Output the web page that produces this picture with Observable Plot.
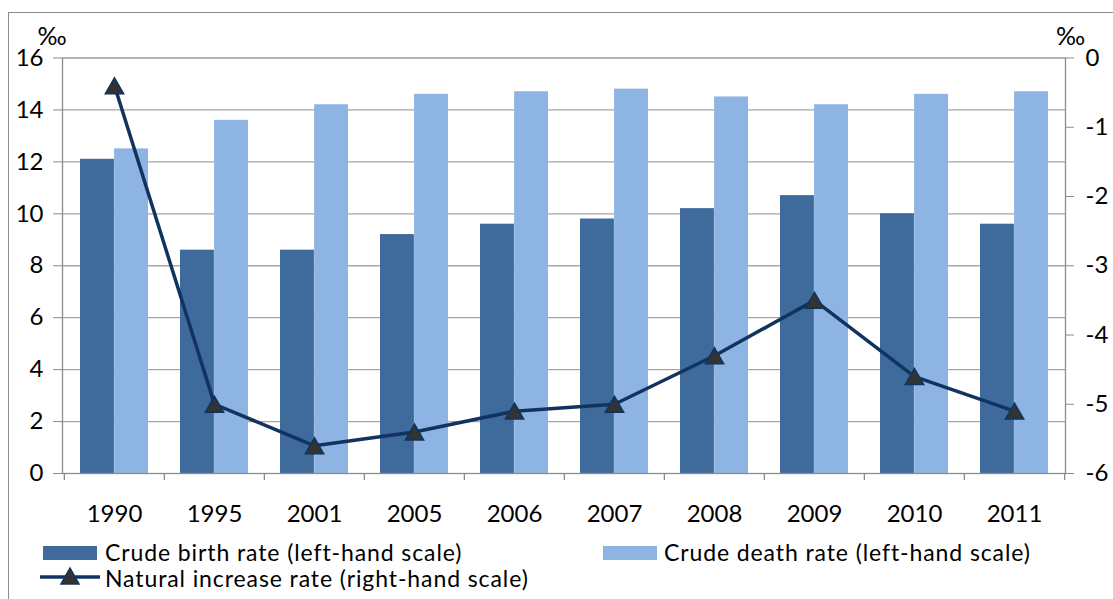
<!DOCTYPE html>
<html><head><meta charset="utf-8">
<script src="https://cdn.jsdelivr.net/npm/d3@7"></script>
<script src="https://cdn.jsdelivr.net/npm/@observablehq/plot@0.6"></script>
<style>
body{margin:0;background:#fff;font-family:Lato,sans-serif;}
#wrap{position:relative;width:1113px;height:599px;overflow:hidden;}
#border{position:absolute;left:8px;top:12px;width:1300px;height:800px;border-top:1px solid #8c8c8c;border-left:1px solid #8c8c8c;box-sizing:border-box;}
#chart{position:absolute;left:0;top:0;}
#legend{position:absolute;left:0;top:535px;width:1113px;height:64px;font-size:23px;color:#000;}
.sw{position:absolute;width:54px;height:14px;}
.lt{position:absolute;line-height:20px;white-space:nowrap;letter-spacing:0.9px;}
</style></head>
<body>
<div id="wrap">
<div id="border"></div>
<div id="chart"></div>
<div id="legend"></div>
</div>
<script>
const years = ["1990","1995","2001","2005","2006","2007","2008","2009","2010","2011"];
const birth = [12.1, 8.6, 8.6, 9.2, 9.6, 9.8, 10.2, 10.7, 10.0, 9.6];
const death = [12.5, 13.6, 14.2, 14.6, 14.7, 14.8, 14.5, 14.2, 14.6, 14.7];
const natural = [-0.4, -5.0, -5.6, -5.4, -5.1, -5.0, -4.3, -3.5, -4.6, -5.1];
const leftTicks = [0, 2, 4, 6, 8, 10, 12, 14, 16];
const rightTicks = [-6, -5, -4, -3, -2, -1, 0];
const seriesNames = ["Crude birth rate (left-hand scale)", "Crude death rate (left-hand scale)", "Natural increase rate (right-hand scale)"];
const unitLabel = "‰";

const colBirth = "#3f6a9c", colDeath = "#8eb4e3", colLine = "#10345f", colMarker = "#333333", colAxis = "#8c8c8c";

const table = years.map((year, i) => ({year, birth: birth[i], death: death[i], natural: natural[i]}));
// right-hand scale [-6, 0] mapped onto the left-hand [0, 16]
const toLeft = v => (v + 6) * 16 / 6;

const W = 1113, H = 535, mL = 62, mR = 48, mT = 57.5, mB = 62;
const step = (W - mL - mR) / years.length;
const half = step * 0.68 / 2;
const FS = 24;

const tri = {draw(context, size) {
  const s = Math.sqrt(size / (Math.sqrt(3) / 4));
  const h = s * Math.sqrt(3) / 2;
  context.moveTo(0, -h / 2);
  context.lineTo(s / 2, h / 2);
  context.lineTo(-s / 2, h / 2);
  context.closePath();
}};

const chart = Plot.plot({
  width: W, height: H,
  marginLeft: mL, marginRight: mR, marginTop: mT, marginBottom: mB,
  style: {fontFamily: "Lato, sans-serif", fontSize: FS + "px", color: "#000", background: "transparent", overflow: "visible"},
  x: {domain: years, paddingInner: 0.32, paddingOuter: 0.16, label: null},
  y: {domain: [0, 16], label: null},
  marks: [
    Plot.gridY(leftTicks.filter(t => t > 0 && t < 16), {stroke: "#a6a6a6", strokeOpacity: 1, strokeWidth: 1.3}),
    Plot.barY(table, {x: "year", y: "birth", fill: colBirth, insetRight: half}),
    Plot.barY(table, {x: "year", y: "death", fill: colDeath, insetLeft: half}),
    Plot.frame({stroke: colAxis, strokeWidth: 1.3}),
    Plot.ruleX(table, {x: "year", y1: 0, y2: -7 / 26, dx: -step / 2, stroke: colAxis, strokeWidth: 1.3}),
    Plot.ruleX([years[years.length - 1]], {x: d => d, y1: 0, y2: -7 / 26, dx: step / 2, stroke: colAxis, strokeWidth: 1.3}),
    Plot.axisY(leftTicks, {anchor: "left", tickSize: 9, tickPadding: 10, stroke: colAxis, fill: "#000", fontSize: FS, label: null}),
    Plot.axisY(rightTicks.map(toLeft), {anchor: "right", tickSize: 8, stroke: colAxis, label: null, tickFormat: () => ""}),
    Plot.text(rightTicks, {y: d => toLeft(d), text: d => String(d), frameAnchor: "right", dx: 20, textAnchor: "start", lineAnchor: "middle", fontSize: FS, fill: "#000"}),
    Plot.axisX(years, {anchor: "bottom", tickSize: 0, tickPadding: 31, fill: "#000", fontSize: FS, label: null}),
    Plot.text([unitLabel], {text: d => d, frameAnchor: "top-left", dx: -10.5, dy: -21.5, fontSize: 25, textAnchor: "middle", lineAnchor: "middle", fill: "#000"}),
    Plot.text([unitLabel], {text: d => d, frameAnchor: "top-right", dx: 5, dy: -21.5, fontSize: 25, textAnchor: "middle", lineAnchor: "middle", fill: "#000"}),
    Plot.line(table, {x: "year", y: d => toLeft(d.natural), stroke: colLine, strokeWidth: 3.5}),
    Plot.dot(table, {x: "year", y: d => toLeft(d.natural), symbol: tri, r: 6.8, fill: colMarker, stroke: colLine, strokeWidth: 1.5})
  ]
});
document.getElementById("chart").appendChild(chart);

const lg = document.getElementById("legend");
lg.innerHTML = `
  <div class="sw" style="left:43px;top:11px;background:${colBirth}"></div>
  <div class="lt" style="left:105px;top:7px">${seriesNames[0]}</div>
  <div class="sw" style="left:603px;top:11px;background:${colDeath}"></div>
  <div class="lt" style="left:664px;top:7px">${seriesNames[1]}</div>
  <svg style="position:absolute;left:38px;top:31px" width="64" height="24">
    <line x1="2" x2="62" y1="11" y2="11" stroke="${colLine}" stroke-width="3.5"/>
    <path d="M32,2 L41,18 L23,18 Z" fill="${colMarker}" stroke="${colLine}" stroke-width="1.5"/>
  </svg>
  <div class="lt" style="left:105px;top:33px">${seriesNames[2]}</div>
`;
</script>
</body></html>
